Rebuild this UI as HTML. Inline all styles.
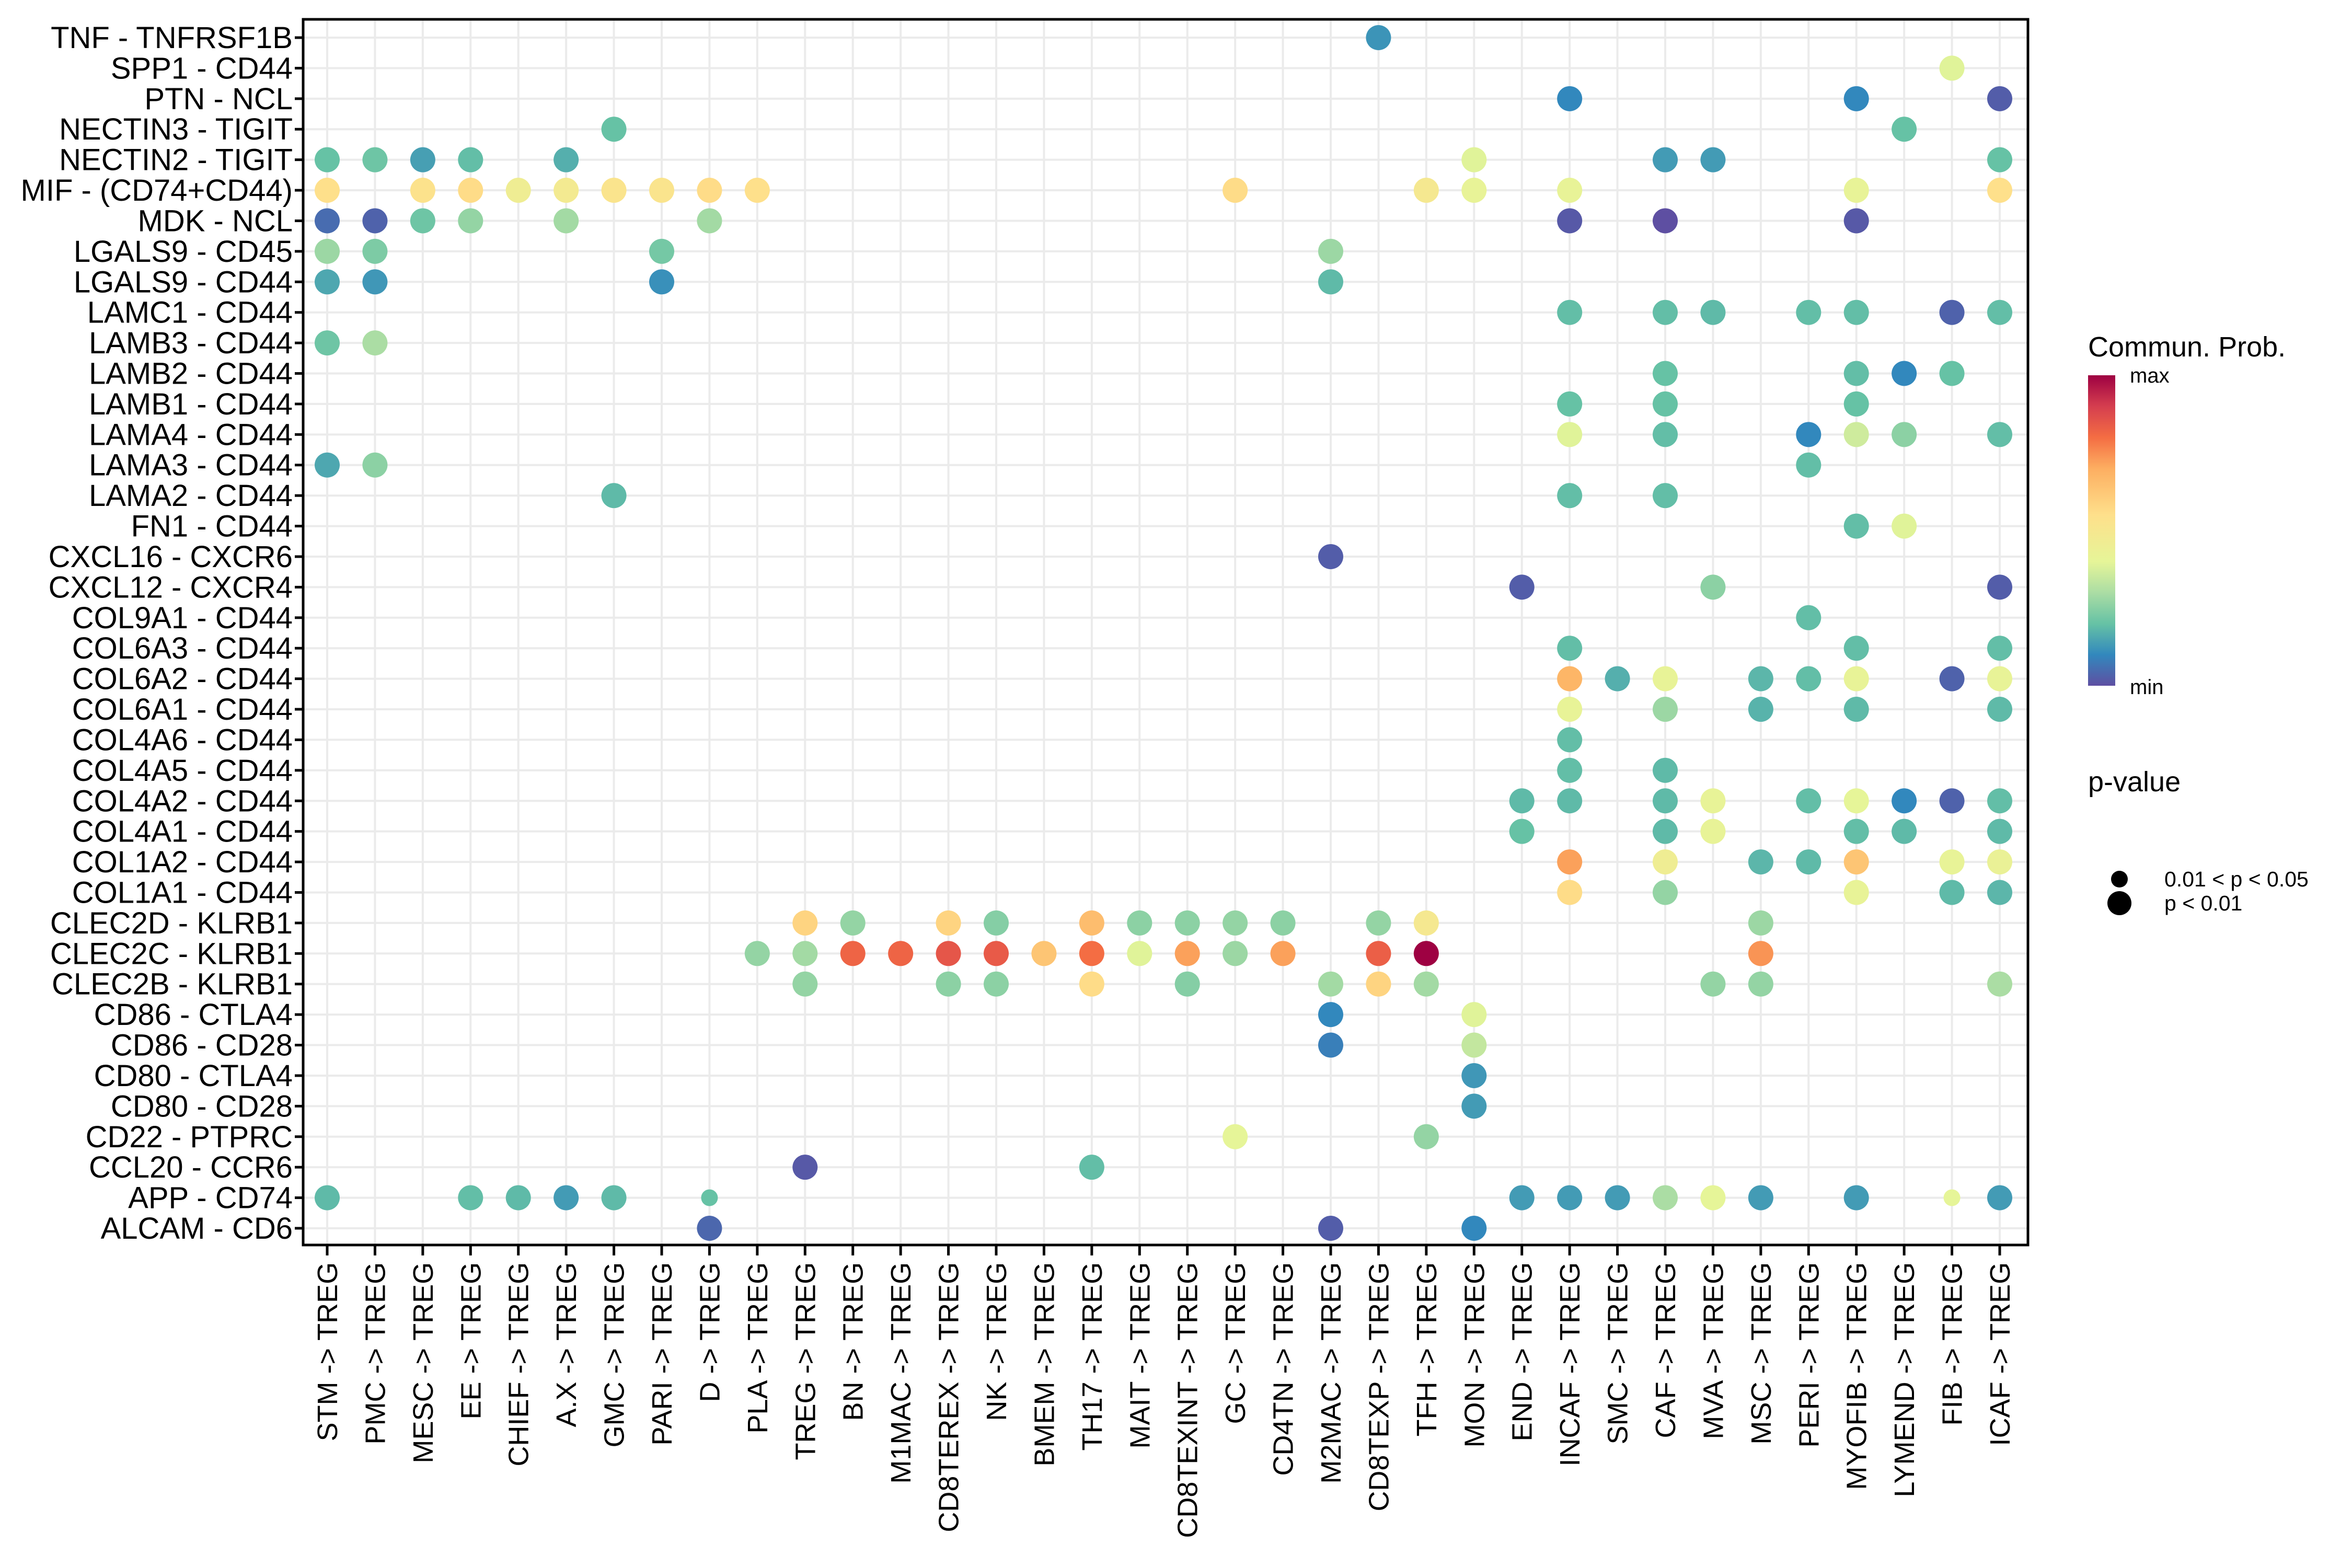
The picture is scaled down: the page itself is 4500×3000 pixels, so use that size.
<!DOCTYPE html>
<html><head><meta charset="utf-8"><title>Dot plot</title>
<style>html,body{margin:0;padding:0;background:#fff}svg{display:block;font-family:"Liberation Sans",Arial,sans-serif}</style>
</head><body>
<svg id="chart" width="4500" height="3000" viewBox="0 0 4500 3000" xmlns="http://www.w3.org/2000/svg">
<defs><linearGradient id="cbar" x1="0" y1="1" x2="0" y2="0">
<stop offset="0" stop-color="#5E4FA2"/><stop offset="0.1" stop-color="#3288BD"/><stop offset="0.2" stop-color="#66C2A5"/><stop offset="0.3" stop-color="#ABDDA4"/><stop offset="0.4" stop-color="#E6F598"/><stop offset="0.55" stop-color="#FEE08B"/><stop offset="0.7" stop-color="#FDAE61"/><stop offset="0.8" stop-color="#F46D43"/><stop offset="0.9" stop-color="#D53E4F"/><stop offset="1" stop-color="#9E0142"/></linearGradient></defs>
<g id="grid"></g>
<g id="dots"></g>
<rect x="580" y="37" width="3300" height="2345" fill="none" stroke="#000" stroke-width="5"/>
<g id="yaxis"></g>
<g id="xaxis"></g>
<g>
<text x="3995" y="682" font-size="54">Commun. Prob.</text>
<rect x="3995" y="718" width="52" height="594" fill="url(#cbar)"/>
<text x="4075" y="732" font-size="40">max</text>
<text x="4075" y="1328" font-size="40">min</text>
</g>
<g>
<text x="3995" y="1514" font-size="54">p-value</text>
<circle cx="4055" cy="1682" r="16" fill="#000"/>
<text x="4141" y="1696" font-size="41">0.01 &lt; p &lt; 0.05</text>
<circle cx="4055" cy="1728" r="23" fill="#000"/>
<text x="4141" y="1742" font-size="41">p &lt; 0.01</text>
</g>
</svg>
<script>
const rowLabels = ["TNF - TNFRSF1B","SPP1 - CD44","PTN - NCL","NECTIN3 - TIGIT","NECTIN2 - TIGIT","MIF - (CD74+CD44)","MDK - NCL","LGALS9 - CD45","LGALS9 - CD44","LAMC1 - CD44","LAMB3 - CD44","LAMB2 - CD44","LAMB1 - CD44","LAMA4 - CD44","LAMA3 - CD44","LAMA2 - CD44","FN1 - CD44","CXCL16 - CXCR6","CXCL12 - CXCR4","COL9A1 - CD44","COL6A3 - CD44","COL6A2 - CD44","COL6A1 - CD44","COL4A6 - CD44","COL4A5 - CD44","COL4A2 - CD44","COL4A1 - CD44","COL1A2 - CD44","COL1A1 - CD44","CLEC2D - KLRB1","CLEC2C - KLRB1","CLEC2B - KLRB1","CD86 - CTLA4","CD86 - CD28","CD80 - CTLA4","CD80 - CD28","CD22 - PTPRC","CCL20 - CCR6","APP - CD74","ALCAM - CD6"];
const colLabels = ["STM -> TREG","PMC -> TREG","MESC -> TREG","EE -> TREG","CHIEF -> TREG","A.X -> TREG","GMC -> TREG","PARI -> TREG","D -> TREG","PLA -> TREG","TREG -> TREG","BN -> TREG","M1MAC -> TREG","CD8TEREX -> TREG","NK -> TREG","BMEM -> TREG","TH17 -> TREG","MAIT -> TREG","CD8TEXINT -> TREG","GC -> TREG","CD4TN -> TREG","M2MAC -> TREG","CD8TEXP -> TREG","TFH -> TREG","MON -> TREG","END -> TREG","INCAF -> TREG","SMC -> TREG","CAF -> TREG","MVA -> TREG","MSC -> TREG","PERI -> TREG","MYOFIB -> TREG","LYMEND -> TREG","FIB -> TREG","ICAF -> TREG"];
const pointRow = [0,1,2,2,2,3,3,4,4,4,4,4,4,4,4,4,5,5,5,5,5,5,5,5,5,5,5,5,5,5,5,6,6,6,6,6,6,6,6,6,7,7,7,7,8,8,8,8,9,9,9,9,9,9,9,10,10,11,11,11,11,12,12,12,13,13,13,13,13,13,14,14,14,15,15,15,16,16,17,18,18,18,19,20,20,20,21,21,21,21,21,21,21,21,22,22,22,22,22,23,24,24,25,25,25,25,25,25,25,25,25,26,26,26,26,26,26,27,27,27,27,27,27,27,28,28,28,28,28,29,29,29,29,29,29,29,29,29,29,29,29,30,30,30,30,30,30,30,30,30,30,30,30,30,30,30,31,31,31,31,31,31,31,31,31,31,31,32,32,33,33,34,35,36,36,37,37,38,38,38,38,38,38,38,38,38,38,38,38,38,38,38,39,39,39];
const pointCol = [22,34,26,32,35,6,33,0,1,2,3,5,24,28,29,35,0,2,3,4,5,6,7,8,9,19,23,24,26,32,35,0,1,2,3,5,8,26,28,32,0,1,7,21,0,1,7,21,26,28,29,31,32,34,35,0,1,28,32,33,34,26,28,32,26,28,31,32,33,35,0,1,31,6,26,28,32,33,21,25,29,35,31,26,32,35,26,27,28,30,31,32,34,35,26,28,30,32,35,26,26,28,25,26,28,29,31,32,33,34,35,25,28,29,32,33,35,26,28,30,31,32,34,35,26,28,32,34,35,10,11,13,14,16,17,18,19,20,22,23,30,9,10,11,12,13,14,15,16,17,18,19,20,22,23,30,10,13,14,16,18,21,22,23,29,30,35,21,24,21,24,24,24,19,23,10,16,0,3,4,5,6,8,25,26,27,28,29,30,32,34,35,8,21,24];
const pointProb = [0.15,0.45,0.12,0.12,0.03,0.27,0.27,0.27,0.28,0.18,0.26,0.22,0.45,0.17,0.17,0.27,0.57,0.56,0.58,0.5,0.52,0.55,0.55,0.58,0.57,0.58,0.53,0.47,0.47,0.47,0.57,0.06,0.04,0.28,0.33,0.35,0.35,0.02,0.0,0.02,0.34,0.3,0.29,0.34,0.2,0.16,0.14,0.25,0.26,0.26,0.25,0.26,0.26,0.04,0.26,0.28,0.36,0.27,0.26,0.12,0.27,0.27,0.27,0.27,0.45,0.26,0.12,0.42,0.32,0.26,0.2,0.32,0.26,0.25,0.26,0.26,0.26,0.45,0.03,0.03,0.32,0.03,0.26,0.26,0.26,0.26,0.68,0.22,0.47,0.24,0.26,0.47,0.04,0.47,0.47,0.34,0.23,0.25,0.25,0.26,0.26,0.25,0.25,0.25,0.25,0.47,0.26,0.46,0.12,0.04,0.26,0.27,0.25,0.47,0.26,0.25,0.25,0.72,0.5,0.24,0.25,0.64,0.47,0.48,0.58,0.33,0.47,0.25,0.24,0.6,0.33,0.6,0.31,0.66,0.32,0.32,0.33,0.32,0.33,0.53,0.34,0.33,0.35,0.82,0.82,0.85,0.84,0.64,0.8,0.45,0.72,0.34,0.72,0.83,1.0,0.74,0.33,0.32,0.32,0.58,0.31,0.35,0.6,0.35,0.33,0.33,0.36,0.12,0.45,0.1,0.4,0.16,0.17,0.46,0.33,0.02,0.26,0.25,0.26,0.25,0.17,0.25,0.27,0.17,0.17,0.17,0.36,0.46,0.17,0.17,0.46,0.17,0.05,0.03,0.12];
const pointSig = pointRow.map((r,i)=> (r===38 && (pointCol[i]===8 || pointCol[i]===34)) ? 0 : 1);

const NS="http://www.w3.org/2000/svg";
const x0=626, dx=(3826-626)/35, y0=72, dy=(2350-72)/39;
function xScale(c){return x0+c*dx;}
function yScale(r){return y0+r*dy;}
const stops=[[0,[94,79,162]],[0.12,[50,136,189]],[0.27,[102,194,165]],[0.36,[171,221,164]],[0.46,[230,245,152]],[0.57,[254,224,139]],[0.7,[253,174,97]],[0.8,[244,109,67]],[0.9,[213,62,79]],[1,[158,1,66]]];
function color(v){for(let i=1;i<stops.length;i++){if(v<=stops[i][0]){const a=stops[i-1],b=stops[i],t=(v-a[0])/(b[0]-a[0]);const c=a[1].map((q,k)=>Math.round(q+(b[1][k]-q)*t));return `rgb(${c})`;}}return "rgb(158,1,66)";}
function mk(tag,attrs,parent){const e=document.createElementNS(NS,tag);for(const k in attrs)e.setAttribute(k,attrs[k]);parent.appendChild(e);return e;}
const grid=document.getElementById('grid'),dots=document.getElementById('dots'),ya=document.getElementById('yaxis'),xa=document.getElementById('xaxis');
rowLabels.forEach((lab,r)=>{const y=yScale(r);
 const g=mk('line',{x1:580,x2:3880,y1:y,y2:y,stroke:'#EBEBEB','stroke-width':4},grid);
 
 
 const t=mk('line',{x1:564,x2:580,y1:y,y2:y,stroke:'#000','stroke-width':5},ya);
 
 
 const tx=mk('text',{x:560,y:y+20,'font-size':58,'text-anchor':'end'},ya);tx.textContent=lab;
 
 
});
colLabels.forEach((lab,c)=>{const x=xScale(c);
 const g=mk('line',{x1:x,x2:x,y1:37,y2:2382,stroke:'#EBEBEB','stroke-width':4},grid);
 
 
 const t=mk('line',{x1:x,x2:x,y1:2382,y2:2402,stroke:'#000','stroke-width':5},xa);
 
 
 const tx=mk('text',{x:0,y:0,'font-size':54,'text-anchor':'end',transform:`translate(${x+19},2415) rotate(-90)`},xa);tx.textContent=lab;
 
 
});
pointRow.forEach((r,i)=>{
 const d=mk('circle',{cx:xScale(pointCol[i]),cy:yScale(r),r:pointSig[i]?24:16,fill:color(pointProb[i])},dots);
 
 
});
</script>
</body></html>
